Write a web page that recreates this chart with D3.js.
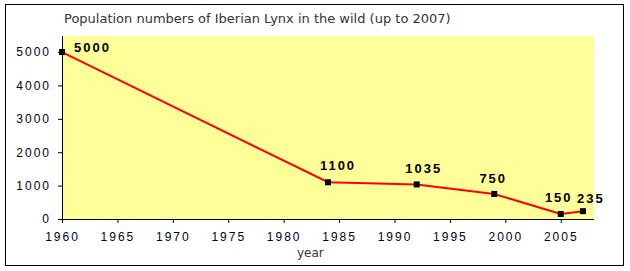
<!DOCTYPE html>
<html><head><meta charset="utf-8">
<script src="https://cdn.jsdelivr.net/npm/d3@7"></script>
<style>body{margin:0;background:#fff}svg{display:block}</style>
</head><body>
<svg id="c" width="630" height="271"></svg>
<script>
const years = [1960, 1984, 1992, 1999, 2005, 2007];
const population = [5000, 1100, 1035, 750, 150, 235];
const yTicks = [0, 1000, 2000, 3000, 4000, 5000];
const xTicks = [1960, 1965, 1970, 1975, 1980, 1985, 1990, 1995, 2000, 2005];
const title = "Population numbers of Iberian Lynx in the wild (up to 2007)";
const xTitle = "year";

const labelDx = [12, 10, 7, -1, -2, 8];
const labelDy = [-5, -17, -16, -16, -17, -13];

const svg = d3.select("#c");
const m = {l: 62, r: 594, t: 36, b: 219};
const x = d3.scaleLinear().domain([1960, 2008]).range([m.l, m.r]);
const y = d3.scaleLinear().domain([0, 5480]).range([m.b, m.t]);

svg.append("rect").attr("x", 5.5).attr("y", 4.5).attr("width", 618).attr("height", 261)
  .attr("fill", "#fff").attr("stroke", "#000").attr("stroke-width", 1);
svg.append("rect").attr("x", m.l).attr("y", m.t).attr("width", m.r - m.l).attr("height", m.b - m.t)
  .attr("fill", "#ffff99");

svg.append("text").attr("x", 64).attr("y", 23).text(title)
  .attr("font-family", "DejaVu Sans").attr("font-size", 13).attr("fill", "#333");

const ya = svg.append("g").attr("transform", `translate(${m.l},0)`)
  .call(d3.axisLeft(y).tickValues(yTicks).tickSize(4).tickPadding(7).tickFormat(d3.format("d")));
const xa = svg.append("g").attr("transform", `translate(0,${m.b})`)
  .call(d3.axisBottom(x).tickValues(xTicks).tickSize(4).tickPadding(9).tickFormat(d3.format("d")));
[ya, xa].forEach(g => {
  g.select(".domain").attr("stroke", "#000").attr("stroke-width", 1);
  g.selectAll(".tick line").attr("stroke", "#000");
  g.selectAll("text").attr("font-family", "'Liberation Sans', Arial, sans-serif").attr("font-size", 12)
    .attr("fill", "#000020").attr("letter-spacing", "2px");
});
xa.select(".domain").attr("d", `M${m.l},0.5H${m.r}`);
ya.select(".domain").attr("d", `M0.5,${m.b}V${m.t}`);

svg.append("text").attr("x", 297).attr("y", 257).text(xTitle)
  .attr("font-family", "DejaVu Sans").attr("font-size", 12).attr("fill", "#333");

const pts = years.map((d, i) => ({x: d, y: population[i], i}));
svg.append("path").datum(pts)
  .attr("d", d3.line().x(d => x(d.x)).y(d => y(d.y)))
  .attr("fill", "none").attr("stroke", "#ff0000").attr("stroke-width", 2);
svg.selectAll(".mk").data(pts).enter().append("rect")
  .attr("x", d => x(d.x) - 3).attr("y", d => y(d.y) - 3).attr("width", 6).attr("height", 6)
  .attr("fill", "#000");
svg.selectAll(".lb").data(pts).enter().append("text")
  .attr("x", d => x(d.x) + labelDx[d.i]).attr("y", d => y(d.y) + labelDy[d.i] + 5)
  .attr("text-anchor", d => d.i === 0 ? "start" : "middle")
  .text(d => d.y)
  .attr("font-family", "'Liberation Sans', Arial, sans-serif").attr("font-weight", "bold").attr("font-size", 13)
  .attr("letter-spacing", "2px").attr("fill", "#000");
</script>
</body></html>
